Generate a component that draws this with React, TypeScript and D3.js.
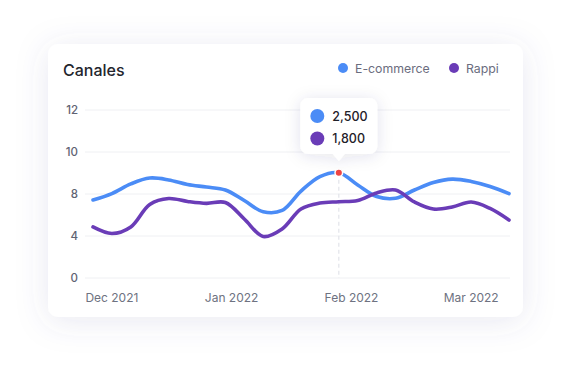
import { useRef, useEffect } from "react";
import * as d3 from "d3";

// weekly samples (index 0..22)
const ecommerce = [
  7.43, 8.02, 8.48, 8.76, 8.67, 8.45, 8.33, 8.19, 7.38, 6.31, 6.43, 8.14,
  8.83, 9.01, 8.43, 7.76, 7.59, 8.19, 8.55, 8.71, 8.6, 8.36, 8.02,
];
const rappi = [
  4.86, 4.24, 4.86, 7.0, 7.57, 7.29, 7.11, 7.19, 5.62, 3.95, 4.67, 6.57,
  7.14, 7.26, 7.38, 8.05, 8.19, 7.24, 6.57, 6.76, 7.24, 6.62, 5.52,
];
const yTicks = [0, 4, 8, 10, 12];
const monthLabels = ["Dec 2021", "Jan 2022", "Feb 2022", "Mar 2022"];
const monthPos = [1, 7.33, 13.67, 20];
const tooltipIndex = 13;
const tooltipValues = ["2,500", "1,800"];

const series = [
  { name: "E-commerce", values: ecommerce, color: "#4b8cf6" },
  { name: "Rappi", values: rappi, color: "#6a3cb7" },
];

const W = 572;
const H = 370;
const FONT = "Inter, 'Noto Sans', sans-serif";

export default function App() {
  const svgRef = useRef<SVGSVGElement>(null);

  useEffect(() => {
    if (!svgRef.current) return;
    const svg = d3.select(svgRef.current);
    svg.selectAll("*").remove();

    const defs = svg.append("defs");
    const f = defs
      .append("filter")
      .attr("id", "cardShadow")
      .attr("x", "-20%")
      .attr("y", "-30%")
      .attr("width", "140%")
      .attr("height", "160%");
    f.append("feDropShadow")
      .attr("dx", 0)
      .attr("dy", 4)
      .attr("stdDeviation", 16)
      .attr("flood-color", "#5a5a96")
      .attr("flood-opacity", 0.13);
    const tf = defs
      .append("filter")
      .attr("id", "tipShadow")
      .attr("x", "-50%")
      .attr("y", "-50%")
      .attr("width", "200%")
      .attr("height", "200%");
    tf.append("feDropShadow")
      .attr("dx", 0)
      .attr("dy", 2)
      .attr("stdDeviation", 8)
      .attr("flood-color", "#3a3a60")
      .attr("flood-opacity", 0.12);

    svg.append("rect").attr("width", W).attr("height", H).attr("fill", "#ffffff");

    // card
    svg
      .append("rect")
      .attr("x", 48)
      .attr("y", 44)
      .attr("width", 475)
      .attr("height", 273)
      .attr("rx", 10)
      .attr("fill", "#ffffff")
      .attr("filter", "url(#cardShadow)");

    svg
      .append("text")
      .attr("x", 63)
      .attr("y", 76)
      .attr("font-family", FONT)
      .attr("font-size", 16)
      .attr("font-weight", 500)
      .attr("fill", "#23252d")
      .text("Canales");

    // legend
    const legendX = [343, 454];
    series.forEach((s, i) => {
      const g = svg.append("g").attr("transform", `translate(${legendX[i]},68)`);
      g.append("circle").attr("r", 5).attr("fill", s.color);
      g.append("text")
        .attr("x", 12)
        .attr("y", 4.5)
        .attr("font-family", FONT)
        .attr("font-size", 12.3)
        .attr("fill", "#6b6d7e")
        .text(s.name);
    });

    const x = d3.scaleLinear().domain([0, ecommerce.length - 1]).range([93, 509]);
    const y = d3.scaleLinear().domain(yTicks).range([278, 236, 194, 152, 110]);

    // grid
    const grid = svg.append("g");
    yTicks.forEach((t) => {
      grid
        .append("line")
        .attr("x1", 85)
        .attr("x2", 510)
        .attr("y1", y(t))
        .attr("y2", y(t))
        .attr("stroke", "#eff0f3")
        .attr("stroke-width", 1);
      grid
        .append("text")
        .attr("x", 78)
        .attr("y", y(t) + 4)
        .attr("text-anchor", "end")
        .attr("font-family", FONT)
        .attr("font-size", 11.5)
        .attr("font-weight", 500)
        .attr("fill", "#5f6373")
        .text(t);
    });

    monthLabels.forEach((m, i) => {
      svg
        .append("text")
        .attr("x", x(monthPos[i]))
        .attr("y", 302)
        .attr("text-anchor", "middle")
        .attr("font-family", FONT)
        .attr("font-size", 12)
        .attr("fill", "#6e7281")
        .text(m);
    });

    // hover line
    const hx = x(tooltipIndex);
    svg
      .append("line")
      .attr("x1", hx)
      .attr("x2", hx)
      .attr("y1", y(ecommerce[tooltipIndex]))
      .attr("y2", 278)
      .attr("stroke", "#e2e4ea")
      .attr("stroke-width", 1.2)
      .attr("stroke-dasharray", "4 3");

    const line = d3
      .line<number>()
      .x((_, i) => x(i))
      .y((d) => y(d))
      .curve(d3.curveCatmullRom.alpha(0.5));

    series.forEach((s) => {
      svg
        .append("path")
        .attr("d", line(s.values))
        .attr("fill", "none")
        .attr("stroke", s.color)
        .attr("stroke-width", 3.6)
        .attr("stroke-linecap", "round");
    });

    svg
      .append("circle")
      .attr("cx", hx)
      .attr("cy", y(ecommerce[tooltipIndex]))
      .attr("r", 3.8)
      .attr("fill", "#ef4444")
      .attr("stroke", "#ffffff")
      .attr("stroke-width", 1.5);

    // tooltip
    const tipW = 77;
    const tipH = 56;
    const tipX = hx - tipW / 2;
    const tipY = 98;
    const tip = svg.append("g").attr("filter", "url(#tipShadow)");
    tip
      .append("path")
      .attr(
        "d",
        `M${tipX + 8},${tipY} h${tipW - 16} a8,8 0 0 1 8,8 v${tipH - 16} a8,8 0 0 1 -8,8 ` +
          `H${hx + 6} L${hx},${tipY + tipH + 7} L${hx - 6},${tipY + tipH} H${tipX + 8} ` +
          `a8,8 0 0 1 -8,-8 v${-(tipH - 16)} a8,8 0 0 1 8,-8 Z`
      )
      .attr("fill", "#ffffff");
    series.forEach((s, i) => {
      const cy = tipY + 18 + i * 22.5;
      svg
        .append("circle")
        .attr("cx", tipX + 17)
        .attr("cy", cy)
        .attr("r", 7)
        .attr("fill", s.color);
      svg
        .append("text")
        .attr("x", tipX + 32)
        .attr("y", cy + 4.5)
        .attr("font-family", FONT)
        .attr("font-size", 12.5)
        .attr("font-weight", 500)
        .attr("fill", "#1f2129")
        .text(tooltipValues[i]);
    });
  }, []);

  return (
    <svg
      ref={svgRef}
      width={W}
      height={H}
      style={{ position: "absolute", left: 0, top: 0, display: "block" }}
    />
  );
}
